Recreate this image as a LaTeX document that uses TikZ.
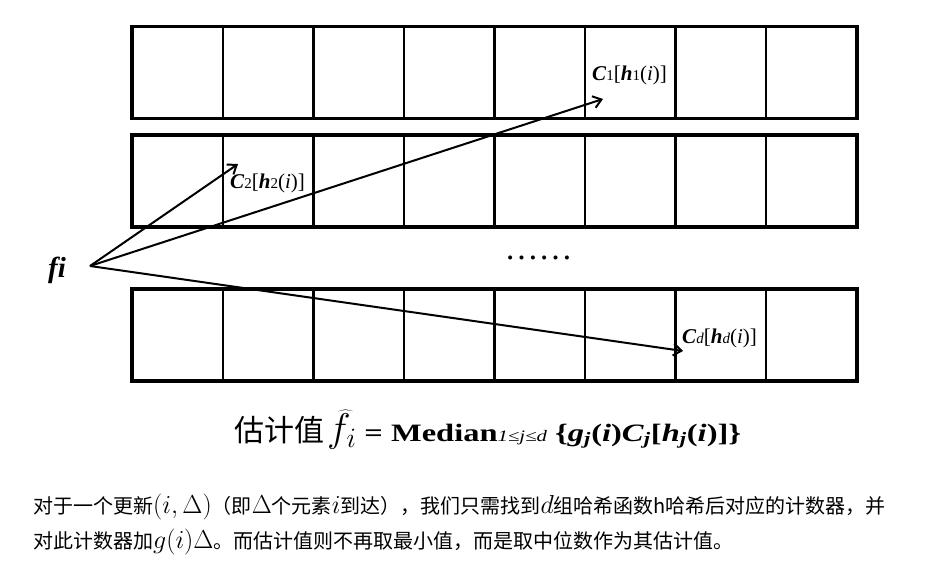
\RequirePackage{fix-cm}
\documentclass[tikz,border=0pt]{standalone}
\usepackage[no-math]{fontspec}
\usepackage{graphicx}
\setmainfont{Liberation Serif}
\newfontfamily\cjk{Noto Sans CJK SC}
\newcommand{\mbig}{\fontsize{26}{26}\selectfont}
\usetikzlibrary{positioning, arrows.meta}

\begin{document}
\begin{tikzpicture}[x=1pt, y=-1pt, node distance=90.5pt, on grid,
    cell/.style={draw, line width=2.1pt, minimum width=90.5pt, minimum height=90.5pt, inner sep=0pt},
    rowbox/.style={line width=2.7pt},
    hash/.style={-{Straight Barb[length=8pt,width=12pt,line width=2pt]}, line width=2pt},
    lab/.style={inner sep=0pt, anchor=base west, font=\fontsize{21}{21}\selectfont},
    para/.style={inner sep=0pt, anchor=base west, font=\cjk\fontsize{20}{20}\selectfont}]
    \useasboundingbox (0,0) rectangle (927,571);

    % three rows of counters
    \foreach \r/\y in {1/72.5, 2/181, 3/335}{
        \node[cell] (c\r-1) at (177.75,\y) {};
        \foreach \c [remember=\c as \p (initially 1)] in {2,...,8}
            \node[cell, right=of c\r-\p] (c\r-\c) {};
        \draw[rowbox] (c\r-1.north west) rectangle (c\r-8.south east);
    }

    \node[inner sep=0pt, anchor=base west, font=\fontsize{29}{29}\selectfont\bfseries\itshape] (fi) at (48,277) {fi};
    \coordinate (src) at (90,266);
    \coordinate (t1) at (603,99);
    \coordinate (t2) at (238,164);
    \coordinate (t3) at (683,351);

    \node[lab, above right=19pt and -11pt of t1, anchor=base west] (lab1) {\textbf{\textit{C}}{\fontsize{15}{15}\selectfont 1}[\textbf{\textit{h}}{\fontsize{15}{15}\selectfont 1}(\textit{i})]};
    \node[lab, below right=24pt and -8pt of t2, anchor=base west] (lab2) {\textbf{\textit{C}}{\fontsize{15}{15}\selectfont 2}[\textbf{\textit{h}}{\fontsize{15}{15}\selectfont 2}(\textit{i})]};
    \node[lab, above right=8pt and -1pt of t3, anchor=base west] (labd) {\textbf{\textit{C}}{\fontsize{15}{15}\selectfont\textit{d}}[\textbf{\textit{h}}{\fontsize{15}{15}\selectfont\textit{d}}(\textit{i})]};

    \draw[hash] (src) -- (t2);
    \draw[hash] (src) -- (t1);
    \draw[hash] (src) -- (t3);

    \node[inner sep=0pt, anchor=base, font=\fontsize{34}{34}\selectfont] (dots) at (538.5,259) {……};

    % estimate
    \node[inner sep=0pt, anchor=base west] (est) at (234,441) {{\cjk\fontsize{30}{30}\selectfont 估计值}\hspace{3pt}{\fontsize{40}{40}\selectfont$\widehat{f}_{i}$}\scalebox{1.3}[1]{\fontsize{25}{25}\selectfont\bfseries\ = Median{\mdseries\itshape\fontsize{16}{16}\selectfont 1≤j≤d} \{\textit{g}\textsubscript{\textit{j}}(\textit{i})\textit{C}\textsubscript{\textit{j}}[\textit{h}\textsubscript{\textit{j}}(\textit{i})]\}}};

    \node[para] (line1) at (33,513) {对于一个更新{\mbig$(i,\Delta)$}（即{\mbig$\Delta$}个元素{\mbig$i$}到达），我们只需找到{\mbig$d$}组哈希函数h哈希后对应的计数器，并};
    \node[para, below=35pt of line1.base west, anchor=base west] (line2) {对此计数器加{\mbig$g(i)\Delta$}。而估计值则不再取最小值，而是取中位数作为其估计值。};
\end{tikzpicture}
\end{document}
